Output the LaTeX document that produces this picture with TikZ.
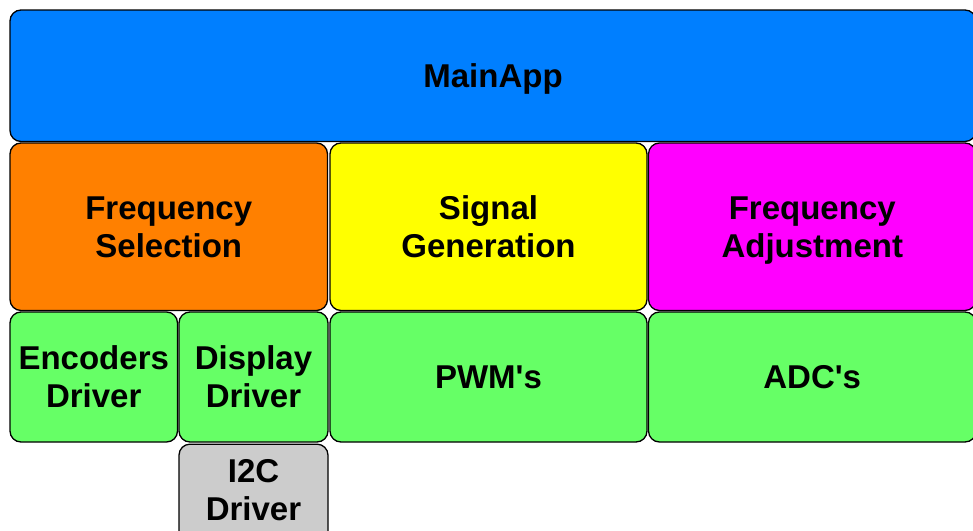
\documentclass[tikz,border=0pt]{standalone}
\usepackage{fontspec}
\newfontfamily\labelfont{Liberation Sans}
\definecolor{appblue}{HTML}{007FFF}
\definecolor{selorange}{HTML}{FF8000}
\definecolor{genyellow}{HTML}{FFFF00}
\definecolor{adjmagenta}{HTML}{FF00FF}
\definecolor{drvgreen}{HTML}{66FF66}
\definecolor{busgray}{HTML}{CCCCCC}
% strut, same size on every line
\newcommand\capstrut{\rule[-6pt]{0pt}{35.6pt}}
\tikzset{
  layer/.style={draw=black,line width=1.3pt,rounded corners=11pt,inner sep=0pt,
    align=center,font=\labelfont\fontsize{33}{38}\selectfont\bfseries},
}
\begin{document}
\begin{tikzpicture}
        [x=1pt,y=-1pt]
        \useasboundingbox (0,0) rectangle (973,530);
        \clip (0,0) rectangle (973,530);

        % top layer
        \node[layer,fill=appblue,minimum width=966pt,minimum height=131.5pt] (main) at (493,75.75) {MainApp\capstrut};

        % middle layer
        \node[layer,fill=selorange,minimum width=317.5pt,minimum height=167.5pt] (freqsel) at (168.75,226.75) {Frequency\capstrut\\Selection\capstrut};
        \node[layer,fill=genyellow,minimum width=317pt,minimum height=167.5pt] (siggen) at (488.5,226.75) {Signal\capstrut\\Generation\capstrut};
        \node[layer,fill=adjmagenta,minimum width=327.5pt,minimum height=167.5pt] (freqadj) at (812.25,226.75) {Frequency\capstrut\\Adjustment\capstrut};

        % drivers
        \node[layer,fill=drvgreen,minimum width=167.5pt,minimum height=130pt] (enc) at (93.75,377) {Encoders\capstrut\\Driver\capstrut};
        \node[layer,fill=drvgreen,minimum width=149pt,minimum height=130pt] (disp) at (253.5,377) {Display\capstrut\\Driver\capstrut};
        \node[layer,fill=drvgreen,minimum width=317pt,minimum height=130pt] (pwm) at (488.5,377) {PWM's\capstrut};
        \node[layer,fill=drvgreen,minimum width=327.5pt,minimum height=130pt] (adc) at (812.25,377) {ADC's\capstrut};

        % bus
        \node[layer,fill=busgray,minimum width=149pt,minimum height=130pt,anchor=north] (i2c) at (253.5,443.5) {};
        \node[font=\labelfont\fontsize{33}{38}\selectfont\bfseries,align=center,inner sep=0pt] (i2ctext) at (253.5,489.5) {I2C\capstrut\\Driver\capstrut};
      \end{tikzpicture}
\end{document}
